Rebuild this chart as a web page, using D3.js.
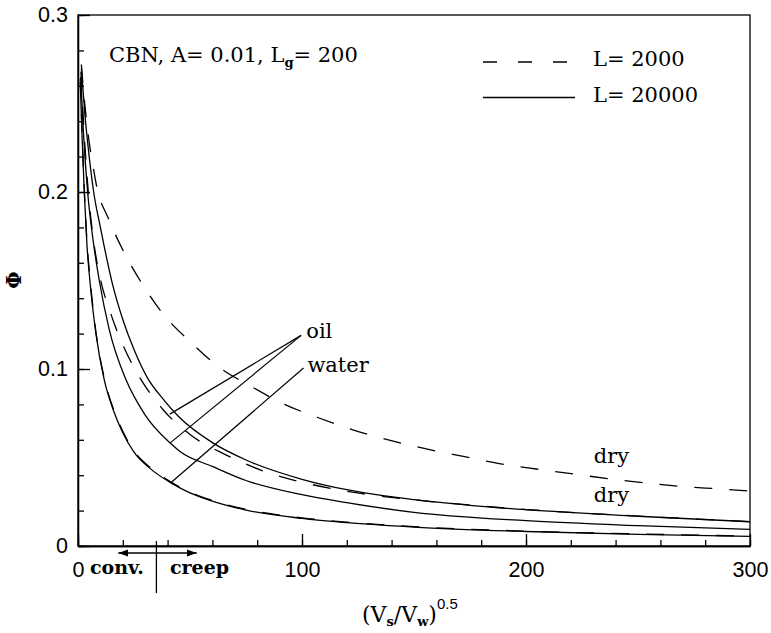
<!DOCTYPE html>
<html>
<head>
<meta charset="utf-8">
<script src="https://cdn.jsdelivr.net/npm/d3@7"></script>
<style>
body { margin: 0; background: #fff; }
svg { display: block; }
.serif { font-family: "DejaVu Serif", "Liberation Serif", serif; fill: #000; }
.tick text { font-family: "Liberation Sans", Arial, sans-serif; font-size: 21.5px; fill: #000; }
.tick line, .domain { stroke: #000; stroke-width: 1.3; }
</style>
</head>
<body>
<div id="vis"></div>
<script>
// chart values: [ (Vs/Vw)^0.5 , Phi ]
const DRY_2000 = [[1.5,0.272],[3,0.250],[5,0.228],[6.8,0.214],[8.2,0.204],[13.6,0.185],[20.5,0.166],[28.7,0.148],
  [38.7,0.130],[50,0.1155],[63,0.101],[76.8,0.0905],[92.2,0.080],[107,0.0726],[123,0.0655],[138.5,0.060],
  [155,0.055],[172,0.0506],[188,0.0466],[204.6,0.0435],[221,0.0407],[237,0.038],[253.4,0.0356],[270,0.0336],
  [287,0.0322],[300,0.031]];
const DRY_20000 = [[1.5,0.270],[3,0.245],[5,0.220],[7,0.200],[10,0.180],[15.4,0.148],[20,0.128],[25,0.111],
  [31,0.095],[38,0.083],[45,0.073],[60,0.0584],[75,0.0486],[100,0.0377],[120,0.0318],[150,0.0262],
  [175,0.0230],[200,0.0205],[250,0.0168],[300,0.0137]];
const OIL_2000 = [[1.3,0.268],[2.8,0.232],[4.6,0.200],[7,0.172],[9.8,0.152],[14.7,0.131],[20.6,0.112],[27.2,0.096],
  [38,0.077],[50,0.063],[66,0.0515],[81,0.0432],[97,0.037],[113,0.0325],[130,0.0290],[147,0.0265],
  [175,0.0232],[200,0.0206],[250,0.0169],[300,0.0138]];
const OIL_20000 = [[1.2,0.265],[2.5,0.232],[4.3,0.200],[6.5,0.175],[9.5,0.150],[14,0.122],[21.4,0.094],[30,0.074],
  [41.3,0.058],[45.4,0.0535],[60.3,0.0448],[75,0.037],[100,0.029],[120,0.0245],[150,0.019],[200,0.0143],
  [250,0.0115],[300,0.0094]];
const WATER_2000 = [[1.0,0.264],[1.8,0.234],[2.8,0.202],[4,0.172],[5.3,0.152],[8,0.121],[11.7,0.095],[16,0.0768],
  [20,0.0648],[25,0.0537],[32,0.0446],[41.7,0.036],[50,0.0305],[60.3,0.0256],[75,0.0207],[100,0.0159],
  [120,0.0135],[150,0.0109],[200,0.0084],[250,0.0068],[300,0.0056]];
const WATER_20000 = [[1.0,0.262],[1.8,0.232],[2.8,0.200],[4,0.170],[5.3,0.150],[8,0.120],[11.7,0.094],[16,0.076],
  [20,0.064],[25,0.053],[32,0.044],[41.7,0.0355],[50,0.030],[60.3,0.0252],[75,0.0203],[100,0.0156],
  [120,0.0132],[150,0.0107],[200,0.0082],[250,0.0066],[300,0.0054]];

const X_MAJOR = [0, 100, 200, 300];
const X_MINOR = d3.range(0, 301, 20);
const Y_MAJOR = [0, 0.1, 0.2, 0.3];
const Y_MINOR = d3.range(0, 0.301, 0.02);

const FRAME_WIDTH = 771;
const FRAME_HEIGHT = 633;
const MARGINS = {left: 78, right: 21, top: 15, bottom: 87};

const SVG = d3.select("#vis")
  .append("svg")
    .attr("width", FRAME_WIDTH)
    .attr("height", FRAME_HEIGHT);

const X_SCALE = d3.scaleLinear().domain([0, 300]).range([MARGINS.left, FRAME_WIDTH - MARGINS.right]);
const Y_SCALE = d3.scaleLinear().domain([0, 0.3]).range([FRAME_HEIGHT - MARGINS.bottom, MARGINS.top]);

// frame
SVG.append("rect")
  .attr("x", X_SCALE(0)).attr("y", Y_SCALE(0.3))
  .attr("width", X_SCALE(300) - X_SCALE(0))
  .attr("height", Y_SCALE(0) - Y_SCALE(0.3))
  .attr("fill", "none").attr("stroke", "#000").attr("stroke-width", 1.3);

// axes: minor ticks point inward, major ones longer with labels
SVG.append("g")
  .attr("transform", "translate(0," + Y_SCALE(0) + ")")
  .call(d3.axisBottom(X_SCALE).tickValues(X_MINOR).tickSize(-6).tickSizeOuter(0).tickFormat(""));
SVG.append("g")
  .attr("transform", "translate(0," + Y_SCALE(0) + ")")
  .call(d3.axisBottom(X_SCALE).tickValues(X_MAJOR).tickSize(-12).tickSizeOuter(0).tickPadding(16).tickFormat(d3.format("d")));
SVG.append("g")
  .attr("transform", "translate(" + X_SCALE(0) + ",0)")
  .call(d3.axisLeft(Y_SCALE).tickValues(Y_MINOR).tickSize(-6).tickSizeOuter(0).tickFormat(""));
SVG.append("g")
  .attr("transform", "translate(" + X_SCALE(0) + ",0)")
  .call(d3.axisLeft(Y_SCALE).tickValues(Y_MAJOR).tickSize(-12).tickSizeOuter(0).tickPadding(10)
    .tickFormat(d => d === 0 ? "0" : d3.format(".1f")(d)));

// curves
const LINE = d3.line()
  .x(d => X_SCALE(d[0]))
  .y(d => Y_SCALE(d[1]))
  .curve(d3.curveMonotoneX);

const CURVES = [
  {data: DRY_2000, dashed: true},
  {data: OIL_2000, dashed: true},
  {data: WATER_2000, dashed: true},
  {data: DRY_20000, dashed: false},
  {data: OIL_20000, dashed: false},
  {data: WATER_20000, dashed: false}
];

SVG.selectAll(".curve")
  .data(CURVES)
  .enter()
  .append("path")
    .attr("class", "curve")
    .attr("d", d => LINE(d.data))
    .attr("fill", "none")
    .attr("stroke", "#000")
    .attr("stroke-width", 1.3)
    .attr("stroke-dasharray", d => d.dashed ? "18,17" : null);

// pointers to the curves
const POINTERS = [
  {from: [99.6, 0.119], to: [41, 0.0745]},
  {from: [99.6, 0.119], to: [41.3, 0.0584]},
  {from: [100.7, 0.1006], to: [41.7, 0.0360]}
];
SVG.selectAll(".pointer")
  .data(POINTERS)
  .enter()
  .append("line")
    .attr("x1", d => X_SCALE(d.from[0])).attr("y1", d => Y_SCALE(d.from[1]))
    .attr("x2", d => X_SCALE(d.to[0])).attr("y2", d => Y_SCALE(d.to[1]))
    .attr("stroke", "#000").attr("stroke-width", 1.2);

const LABELS = [
  {text: "oil", x: 101.9, y: 0.1175},
  {text: "water", x: 102.4, y: 0.0985},
  {text: "dry", x: 230.3, y: 0.0469},
  {text: "dry", x: 230.3, y: 0.0250}
];
SVG.selectAll(".lab")
  .data(LABELS)
  .enter()
  .append("text")
    .attr("class", "serif")
    .attr("x", d => X_SCALE(d.x))
    .attr("y", d => Y_SCALE(d.y))
    .attr("font-size", 21)
    .text(d => d.text);

// title
const title = SVG.append("text").attr("class", "serif")
  .attr("x", 109).attr("y", 62).attr("font-size", 21);
title.append("tspan").text("CBN, A= 0.01, L");
title.append("tspan").attr("font-size", 13).attr("font-weight", "bold").attr("dy", 5).text("g");
title.append("tspan").attr("dy", -5).text("= 200");

// legend
SVG.append("line").attr("x1", 483).attr("x2", 569).attr("y1", 62).attr("y2", 62)
  .attr("stroke", "#000").attr("stroke-width", 1.3).attr("stroke-dasharray", "14,21");
SVG.append("line").attr("x1", 483).attr("x2", 575).attr("y1", 97.5).attr("y2", 97.5)
  .attr("stroke", "#000").attr("stroke-width", 1.3);
SVG.append("text").attr("class", "serif").attr("x", 593).attr("y", 66).attr("font-size", 21).text("L= 2000");
SVG.append("text").attr("class", "serif").attr("x", 593).attr("y", 102).attr("font-size", 21).text("L= 20000");

// conv. / creep marker below the axis
SVG.append("defs").append("marker")
  .attr("id", "arr")
  .attr("viewBox", "0 0 10 10").attr("refX", 10).attr("refY", 5)
  .attr("markerWidth", 10).attr("markerHeight", 10).attr("markerUnits", "userSpaceOnUse")
  .attr("orient", "auto")
  .append("path").attr("d", "M0,1.5 L10,5 L0,8.5 Z").attr("fill", "#000");
const ARROW_Y = Y_SCALE(0) + 7;
SVG.append("line")
  .attr("x1", X_SCALE(35)).attr("x2", X_SCALE(18)).attr("y1", ARROW_Y).attr("y2", ARROW_Y)
  .attr("stroke", "#000").attr("stroke-width", 1.5).attr("marker-end", "url(#arr)");
SVG.append("line")
  .attr("x1", X_SCALE(35)).attr("x2", X_SCALE(53)).attr("y1", ARROW_Y).attr("y2", ARROW_Y)
  .attr("stroke", "#000").attr("stroke-width", 1.5).attr("marker-end", "url(#arr)");
SVG.append("line")
  .attr("x1", X_SCALE(35)).attr("x2", X_SCALE(35)).attr("y1", Y_SCALE(0) - 5).attr("y2", Y_SCALE(0) + 47)
  .attr("stroke", "#000").attr("stroke-width", 1.3);
SVG.append("text").attr("class", "serif").attr("x", 90).attr("y", 574)
  .attr("font-size", 19).attr("font-weight", "bold").text("conv.");
SVG.append("text").attr("class", "serif").attr("x", 170).attr("y", 574)
  .attr("font-size", 19).attr("font-weight", "bold").text("creep");

// axis titles
const xt = SVG.append("text").attr("class", "serif").attr("x", 362).attr("y", 622).attr("font-size", 22);
xt.append("tspan").text("(V");
xt.append("tspan").attr("font-size", 13).attr("font-weight", "bold").attr("dy", 4).text("s");
xt.append("tspan").attr("dy", -4).text("/V");
xt.append("tspan").attr("font-size", 13).attr("font-weight", "bold").attr("dy", 4).text("w");
xt.append("tspan").attr("dy", -4).text(")");
xt.append("tspan").attr("font-family", "Liberation Sans, Arial, sans-serif").attr("font-size", 15)
  .attr("dy", -13).text("0.5");

SVG.append("text").attr("class", "serif")
  .attr("transform", "translate(21,280) rotate(-90)")
  .attr("text-anchor", "middle")
  .attr("font-size", 20)
  .attr("font-weight", "bold")
  .text("Φ");
</script>
</body>
</html>
